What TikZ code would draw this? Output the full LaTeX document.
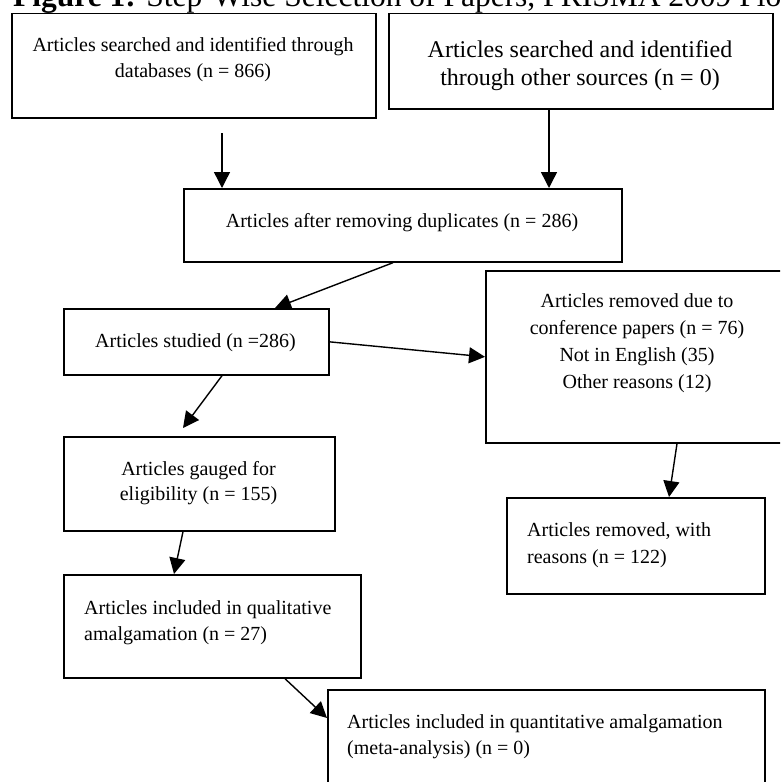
\documentclass[tikz,border=0pt]{standalone}
\usepackage{fontspec}
\setmainfont{Liberation Serif}
\usetikzlibrary{arrows.meta}
\begin{document}
\begin{tikzpicture}[x=1pt,y=-1pt,
  box/.style={draw=black, line width=1.7pt, inner sep=0pt, anchor=north west},
  arr/.style={draw=black, line width=1.4pt, -{Triangle[length=16pt,width=16pt]}},
  txt/.style={inner sep=0pt, font=\fontsize{20}{26.5}\selectfont},
]
\useasboundingbox (0,0) rectangle (780,782);
\clip (0,0) rectangle (780,782);
\fill[white] (0,0) rectangle (780,782);

% title (cut by the top edge)
\node[anchor=base west, inner sep=0pt, font=\fontsize{31.5}{36}\selectfont] (title) at (13,6)
  {\textbf{Figure 1:} Step-Wise Selection of Papers, PRISMA 2009 Flow Diagram};

% boxes
\node[box, minimum width=364pt, minimum height=104.3pt] (b1) at (11,12.7) {};
\node[box, minimum width=384pt, minimum height=95.3pt] (b2) at (388,12.7) {};
\node[box, minimum width=438pt, minimum height=73pt] (b3) at (183,188) {};
\node[box, minimum width=265pt, minimum height=66pt] (b4) at (63,308) {};
\node[box, minimum width=271pt, minimum height=94pt] (b5) at (63,436) {};
\node[box, minimum width=305pt, minimum height=172pt] (b6) at (485,270) {};
\node[box, minimum width=258pt, minimum height=96pt] (b7) at (506,497) {};
\node[box, minimum width=297pt, minimum height=103pt] (b8) at (63,574) {};
\node[box, minimum width=437pt, minimum height=97pt] (b9) at (327,689) {};

% texts (anchor base = baseline of the last line)
\node[txt, anchor=base, align=center, font=\fontsize{20}{26}\selectfont] (t1) at (193,77)
  {Articles searched and identified through\\databases (n = 866)};
\node[txt, anchor=base, align=center, font=\fontsize{24}{28}\selectfont] (t2) at (580,85)
  {Articles searched and identified\\through other sources (n = 0)};
\node[txt, anchor=base] (t3) at (402,227) {Articles after removing duplicates (n = 286)};
\node[txt, anchor=base] (t4) at (195.5,347) {Articles studied (n =286)};
\node[txt, anchor=base, align=center, font=\fontsize{20}{25}\selectfont] (t5) at (198.5,500)
  {Articles gauged for\\eligibility (n = 155)};
\node[txt, anchor=base, align=center, font=\fontsize{20}{26.7}\selectfont] (t6) at (637,388)
  {Articles removed due to\\conference papers (n = 76)\\Not in English (35)\\Other reasons (12)};
\node[txt, anchor=base west, align=left, font=\fontsize{20}{27}\selectfont] (t7) at (527,563)
  {Articles removed, with\\reasons (n = 122)};
\node[txt, anchor=base west, align=left, font=\fontsize{20}{26}\selectfont] (t8) at (84,640)
  {Articles included in qualitative\\amalgamation (n = 27)};
\node[txt, anchor=base west, align=left, font=\fontsize{20}{26.5}\selectfont] (t9) at (347,754.5)
  {Articles included in quantitative amalgamation\\(meta-analysis) (n = 0)};

% helper coordinates
\coordinate (s1) at (222,133);
\coordinate (xb) at (549,0);
\coordinate (xc) at (393,0);
\coordinate (ec) at (275,308);
\coordinate (xd) at (222,0);
\coordinate (ed) at (183,428);
\coordinate (xe) at (677,0);
\coordinate (xe2) at (669,0);
\coordinate (xf) at (183,0);
\coordinate (xf2) at (174,0);
\coordinate (xg) at (285,0);
\coordinate (yg) at (0,718);

% connectors
\draw[arr] (s1) -- (s1 |- b3.north);
\draw[arr] (b2.south -| xb) -- (b3.north -| xb);
\draw[arr] (b3.south -| xc) -- (ec);
\draw[arr] (b4.east) -- (b6.west);
\draw[arr] (b4.south -| xd) -- (ed);
\draw[arr] (b6.south -| xe) -- (b7.north -| xe2);
\draw[arr] (b5.south -| xf) -- (b8.north -| xf2);
\draw[arr] (b8.south -| xg) -- (b9.west |- yg);
\end{tikzpicture}
\end{document}
